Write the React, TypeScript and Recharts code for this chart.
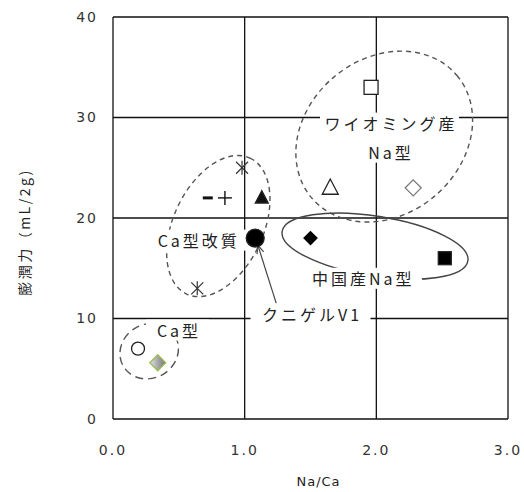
import { ScatterChart, Scatter, XAxis, YAxis, CartesianGrid, ReferenceLine } from "recharts";

const xTicks = [0, 1, 2, 3];
const yTicks = [0, 10, 20, 30, 40];

// 試料 (Na/Ca, 膨潤力)
const openSquare = [{ x: 1.96, y: 33 }];
const openTriangle = [{ x: 1.65, y: 23 }];
const openDiamond = [{ x: 2.28, y: 23 }];
const filledTriangle = [{ x: 1.13, y: 22 }];
const asteriskPts = [{ x: 0.98, y: 25 }, { x: 0.64, y: 13 }];
const dashPts = [{ x: 0.72, y: 22 }];
const plusPts = [{ x: 0.85, y: 22 }];
const kunigel = [{ x: 1.08, y: 18 }];
const filledDiamond = [{ x: 1.5, y: 18 }];
const filledSquare = [{ x: 2.52, y: 16 }];
const openCircle = [{ x: 0.19, y: 7 }];
const grayDiamond = [{ x: 0.34, y: 5.6 }];

// グループの囲み (中心)
const wyomingGroup = [{ x: 2.06, y: 28.1 }];
const caModGroup = [{ x: 0.8, y: 19.2 }];
const caGroup = [{ x: 0.275, y: 6.75 }];
const chinaGroup = [{ x: 1.99, y: 17.2 }];

// 注記
const wyomingLabel = [{ x: 2.1, y: 28.0, lines: ["ワイオミング産", "Na型"] }];
const caModLabel = [{ x: 0.64, y: 17.8, lines: ["Ca型改質"] }];
const chinaLabel = [{ x: 1.89, y: 14.0, lines: ["中国産Na型"] }];
const kunigelLabel = [{ x: 1.5, y: 10.45, lines: ["クニゲルV1"] }];
const caLabel = [{ x: 0.49, y: 8.85, lines: ["Ca型"] }];
const arrowFrom = { x: 1.24, y: 11.5 };
const arrowTo = { x: 1.1, y: 17.3 };

const jp = '"Noto Sans CJK JP", "Noto Sans", sans-serif';

const ellipse = (rx: number, ry: number, rot: number, dash?: string, color = "#555") =>
  (p: any) => (
    <ellipse
      cx={p.cx}
      cy={p.cy}
      rx={rx}
      ry={ry}
      transform={`rotate(${rot} ${p.cx} ${p.cy})`}
      fill="none"
      stroke={color}
      strokeWidth={1.4}
      strokeDasharray={dash}
    />
  );

const textBox = (p: any) => {
  const lines: string[] = p.payload.lines;
  const lh = 29;
  const fs = 16;
  const ls = 3;
  const top = p.cy - (lines.length * lh) / 2;
  const w = Math.max(...lines.map((l) => l.length)) * (fs + ls) + 6;
  return (
    <g>
      <rect x={p.cx - w / 2} y={top + 4} width={w} height={lines.length * lh - 8} fill="#fff" />
      {lines.map((l, i) => (
        <text
          key={i}
          x={p.cx + ls / 2}
          y={top + lh * i + lh / 2}
          textAnchor="middle"
          dominantBaseline="central"
          fontFamily={jp}
          fontSize={fs}
          letterSpacing={ls}
          fill="#222"
        >
          {l}
        </text>
      ))}
    </g>
  );
};

const square = (s: number, fill: string) => (p: any) => (
  <rect x={p.cx - s / 2} y={p.cy - s / 2} width={s} height={s} fill={fill} stroke="#222" strokeWidth={1.3} />
);
const triangle = (s: number, fill: string) => (p: any) => (
  <polygon
    points={`${p.cx},${p.cy - s * 0.55} ${p.cx - s / 2},${p.cy + s * 0.4} ${p.cx + s / 2},${p.cy + s * 0.4}`}
    fill={fill}
    stroke="#222"
    strokeWidth={1.3}
  />
);
const diamond = (r: number, fill: string, stroke: string) => (p: any) => (
  <polygon
    points={`${p.cx},${p.cy - r} ${p.cx + r},${p.cy} ${p.cx},${p.cy + r} ${p.cx - r},${p.cy}`}
    fill={fill}
    stroke={stroke}
    strokeWidth={1.3}
  />
);
const circle = (r: number, fill: string) => (p: any) => (
  <circle cx={p.cx} cy={p.cy} r={r} fill={fill} stroke="#222" strokeWidth={1.3} />
);
const asterisk = (p: any) => (
  <g stroke="#333" strokeWidth={1.2}>
    <line x1={p.cx - 6} y1={p.cy - 6} x2={p.cx + 6} y2={p.cy + 6} />
    <line x1={p.cx - 6} y1={p.cy + 6} x2={p.cx + 6} y2={p.cy - 6} />
    <line x1={p.cx} y1={p.cy - 7} x2={p.cx} y2={p.cy + 7} />
  </g>
);
const dash = (p: any) => (
  <line x1={p.cx - 5} y1={p.cy} x2={p.cx + 5} y2={p.cy} stroke="#111" strokeWidth={3} />
);
const plus = (p: any) => (
  <g stroke="#111" strokeWidth={1.4}>
    <line x1={p.cx - 7} y1={p.cy} x2={p.cx + 7} y2={p.cy} />
    <line x1={p.cx} y1={p.cy - 7} x2={p.cx} y2={p.cy + 7} />
  </g>
);
const grayDia = (p: any) => (
  <g>
    <defs>
      <linearGradient id="gd" x1="0" y1="0" x2="1" y2="0">
        <stop offset="0" stopColor="#e4e4e4" />
        <stop offset="0.5" stopColor="#a8a8a8" />
        <stop offset="1" stopColor="#777" />
      </linearGradient>
    </defs>
    <polygon
      points={`${p.cx},${p.cy - 8} ${p.cx + 8},${p.cy} ${p.cx},${p.cy + 8} ${p.cx - 8},${p.cy}`}
      fill="url(#gd)"
      stroke="#9bbb59"
      strokeWidth={1.3}
    />
  </g>
);

const arrow = (p: any) => {
  const { x1, y1, x2, y2 } = p;
  const a = Math.atan2(y2 - y1, x2 - x1);
  const h = 9;
  const s = 0.4;
  return (
    <g stroke="#444" strokeWidth={1.2} fill="none">
      <line x1={x1} y1={y1} x2={x2} y2={y2} />
      <line x1={x2} y1={y2} x2={x2 - h * Math.cos(a - s)} y2={y2 - h * Math.sin(a - s)} />
      <line x1={x2} y1={y2} x2={x2 - h * Math.cos(a + s)} y2={y2 - h * Math.sin(a + s)} />
    </g>
  );
};

const yLabel = (props: any) => {
  const vb = props.viewBox;
  const x = vb.x + 24;
  const y = vb.y + vb.height / 2 + 14;
  return (
    <text
      x={x}
      y={y}
      transform={`rotate(-90 ${x} ${y})`}
      textAnchor="middle"
      dominantBaseline="central"
      fontFamily={jp}
      fontSize={14}
      letterSpacing={2.5}
      fill="#222"
    >
      膨潤力（mL/2g)
    </text>
  );
};

const xLabel = (props: any) => {
  const vb = props.viewBox;
  const x = vb.x + vb.width / 2 + 8;
  const y = vb.y + vb.height - 11;
  return (
    <text x={x} y={y} textAnchor="middle" dominantBaseline="central" fontFamily="DejaVu Sans" fontSize={13} letterSpacing={1} fill="#222">
      Na/Ca
    </text>
  );
};

export default function App() {
  const tick = { fill: "#333", fontSize: 14, fontFamily: "DejaVu Sans", letterSpacing: 2 };
  return (
    <div style={{ position: "absolute", left: 0, top: 0, background: "#fff" }}>
      <ScatterChart width={524} height={492} margin={{ top: 17, right: 16, left: 0, bottom: 0 }}>
        <CartesianGrid stroke="#111" strokeWidth={1.3} strokeDasharray="" />
        <XAxis
          type="number"
          dataKey="x"
          domain={[0, 3]}
          ticks={xTicks}
          tickFormatter={(v: number) => v.toFixed(1)}
          axisLine={false}
          tickLine={false}
          tickMargin={20}
          height={73}
          tick={tick}
          label={{ content: xLabel }}
        />
        <YAxis
          type="number"
          dataKey="y"
          domain={[0, 40]}
          ticks={yTicks}
          axisLine={false}
          tickLine={false}
          tickMargin={9}
          width={113}
          tick={tick}
          label={{ content: yLabel }}
        />
        <Scatter data={wyomingGroup} shape={ellipse(95, 78, -40, "5 4")} isAnimationActive={false} />
        <Scatter data={caModGroup} shape={ellipse(75, 45, -65, "5 4")} isAnimationActive={false} />
        <Scatter data={caGroup} shape={ellipse(30, 27, -30, "8 5")} isAnimationActive={false} />
        <Scatter data={chinaGroup} shape={ellipse(94, 30, 9, undefined, "#444")} isAnimationActive={false} />
        <Scatter data={wyomingLabel} shape={textBox} isAnimationActive={false} />
        <Scatter data={caModLabel} shape={textBox} isAnimationActive={false} />
        <Scatter data={chinaLabel} shape={textBox} isAnimationActive={false} />
        <Scatter data={kunigelLabel} shape={textBox} isAnimationActive={false} />
        <Scatter data={caLabel} shape={textBox} isAnimationActive={false} />
        <ReferenceLine segment={[arrowFrom, arrowTo]} shape={arrow} />
        <Scatter data={openSquare} shape={square(14, "#fff")} isAnimationActive={false} />
        <Scatter data={openTriangle} shape={triangle(16, "#fff")} isAnimationActive={false} />
        <Scatter data={openDiamond} shape={diamond(8, "#fff", "#777")} isAnimationActive={false} />
        <Scatter data={filledTriangle} shape={triangle(13, "#111")} isAnimationActive={false} />
        <Scatter data={asteriskPts} shape={asterisk} isAnimationActive={false} />
        <Scatter data={dashPts} shape={dash} isAnimationActive={false} />
        <Scatter data={plusPts} shape={plus} isAnimationActive={false} />
        <Scatter data={kunigel} shape={circle(9, "#000")} isAnimationActive={false} />
        <Scatter data={filledDiamond} shape={diamond(6.5, "#000", "#000")} isAnimationActive={false} />
        <Scatter data={filledSquare} shape={square(13, "#000")} isAnimationActive={false} />
        <Scatter data={openCircle} shape={circle(6.5, "#fff")} isAnimationActive={false} />
        <Scatter data={grayDiamond} shape={grayDia} isAnimationActive={false} />
      </ScatterChart>
    </div>
  );
}
